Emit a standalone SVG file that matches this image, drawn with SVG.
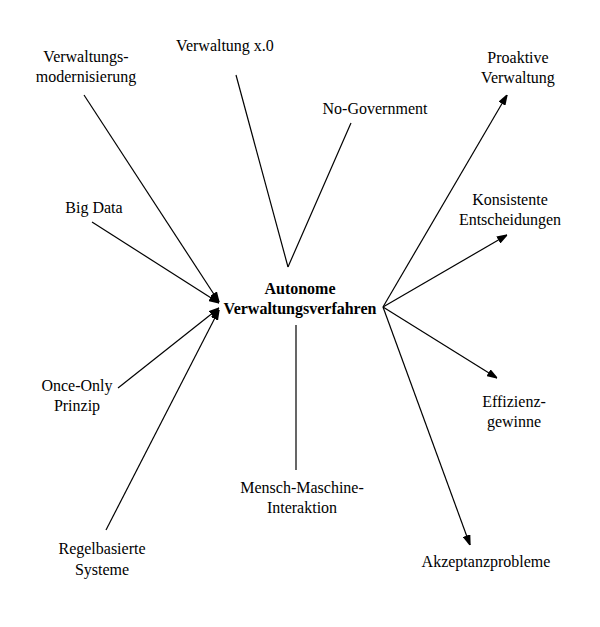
<svg xmlns="http://www.w3.org/2000/svg" width="600" height="627" viewBox="0 0 600 627">
<style>
text{font-family:"Liberation Serif",serif;font-size:16px;text-anchor:middle;fill:#000}
.b{font-weight:bold}
line{stroke:#000;stroke-width:1.2}
</style>
<defs><marker id="a" markerWidth="10" markerHeight="8" refX="10" refY="4" orient="auto" markerUnits="userSpaceOnUse"><path d="M0,0L12,4L0,8z" fill="#000"/></marker></defs>
<rect width="600" height="627" fill="#fff"/>
<g id="connectors">
<line x1="84" y1="95" x2="219" y2="302" marker-end="url(#a)"/>
<line x1="92" y1="222" x2="219" y2="303" marker-end="url(#a)"/>
<line x1="118" y1="388" x2="219" y2="308" marker-end="url(#a)"/>
<line x1="106" y1="530" x2="219" y2="310" marker-end="url(#a)"/>
<line x1="236" y1="75" x2="288" y2="267"/>
<line x1="351" y1="123" x2="288" y2="267"/>
<line x1="296" y1="325" x2="296" y2="470"/>
<line x1="383" y1="307" x2="507" y2="95" marker-end="url(#a)"/>
<line x1="383" y1="307" x2="507" y2="235" marker-end="url(#a)"/>
<line x1="383" y1="307" x2="497" y2="378" marker-end="url(#a)"/>
<line x1="383" y1="307" x2="470" y2="545" marker-end="url(#a)"/>
</g>
<g id="center"><text class="b" x="300" y="294">Autonome</text><text class="b" x="300" y="314">Verwaltungsverfahren</text></g>
<g id="n1"><text x="86" y="62">Verwaltungs-</text><text x="86" y="82">modernisierung</text></g>
<g id="n2"><text x="225" y="51">Verwaltung x.0</text></g>
<g id="n3"><text x="375" y="114">No-Government</text></g>
<g id="n4"><text x="94" y="213">Big Data</text></g>
<g id="n5"><text x="77" y="391">Once-Only</text><text x="77" y="411">Prinzip</text></g>
<g id="n6"><text x="102" y="554">Regelbasierte</text><text x="102" y="575">Systeme</text></g>
<g id="n7"><text x="302" y="493">Mensch-Maschine-</text><text x="302" y="513">Interaktion</text></g>
<g id="n8"><text x="518" y="63">Proaktive</text><text x="518" y="83">Verwaltung</text></g>
<g id="n9"><text x="510" y="205">Konsistente</text><text x="510" y="225">Entscheidungen</text></g>
<g id="n10"><text x="514" y="407">Effizienz-</text><text x="514" y="427">gewinne</text></g>
<g id="n11"><text x="486" y="567">Akzeptanzprobleme</text></g>
</svg>
